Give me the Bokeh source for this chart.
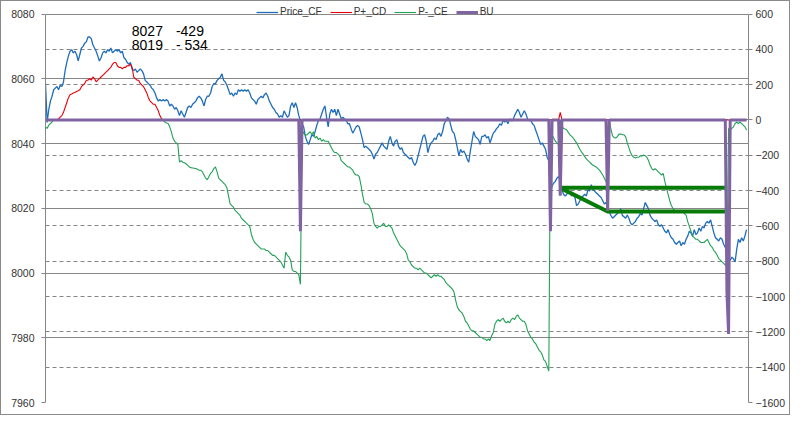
import numpy as np
from bokeh.plotting import figure
from bokeh.models import (Range1d, LinearAxis, FixedTicker, Grid, Legend,
                          LegendItem, Label)
from bokeh.embed import file_html
from bokeh.resources import INLINE

# ---------------- data ----------------
price_cf = [
    8058.5, 8046.5, 8050.5, 8053.1, 8054.6, 8056.6, 8057.1, 8057.6, 8056.6, 8058.0,
    8057.6, 8059.0, 8062.5, 8065.0, 8067.0, 8068.5, 8069.0, 8068.0, 8068.5, 8067.5,
    8065.5, 8067.5, 8069.5, 8070.0, 8071.0, 8071.4, 8072.9, 8072.9, 8072.4, 8070.5,
    8069.5, 8068.5, 8067.0, 8065.5, 8066.5, 8068.0, 8068.5, 8068.0, 8069.0, 8068.5,
    8069.5, 8068.0, 8068.5, 8069.0, 8068.5, 8069.0, 8068.0, 8068.5, 8066.5, 8066.0,
    8065.0, 8064.5, 8065.0, 8063.0, 8062.5, 8063.0, 8062.0, 8062.5, 8063.0, 8062.5,
    8061.5, 8059.5, 8059.0, 8058.5, 8058.0, 8057.1, 8056.6, 8055.6, 8054.1, 8053.1,
    8053.6, 8053.1, 8053.6, 8053.1, 8053.6, 8053.1, 8051.6, 8052.1, 8051.6, 8050.6,
    8051.1, 8050.1, 8048.6, 8050.1, 8049.1, 8048.1, 8049.6, 8051.1, 8051.6, 8051.1,
    8052.1, 8052.6, 8053.1, 8054.1, 8054.6, 8054.1, 8053.1, 8051.6, 8053.6, 8054.6,
    8054.6, 8055.6, 8057.6, 8058.5, 8058.5, 8059.5, 8060.0, 8060.5, 8061.5, 8059.5,
    8059.0, 8058.0, 8056.6, 8055.1, 8055.6, 8054.6, 8055.6, 8055.1, 8056.6, 8056.1,
    8056.6, 8056.1, 8056.6, 8056.1, 8056.6, 8055.6, 8054.1, 8053.6, 8053.1, 8052.1,
    8053.6, 8054.1, 8054.6, 8054.1, 8055.1, 8055.6, 8054.6, 8053.1, 8052.1, 8051.1,
    8050.6, 8049.6, 8049.1, 8048.1, 8048.6, 8048.1, 8050.1, 8049.1, 8048.1, 8048.6,
    8051.6, 8052.6, 8051.1, 8052.6, 8051.1, 8048.6, 8047.1, 8046.1, 8045.1, 8042.2,
    8040.7, 8039.7, 8041.2, 8042.7, 8042.2, 8043.7, 8045.6, 8047.1, 8047.6, 8049.1,
    8050.6, 8051.6, 8048.1, 8045.1, 8049.1, 8050.6, 8049.6, 8050.6, 8048.6, 8050.6,
    8049.1, 8047.6, 8048.1, 8047.6, 8047.1, 8046.1, 8046.1, 8044.6, 8043.2, 8044.1,
    8045.1, 8045.6, 8045.1, 8043.2, 8041.2, 8038.7, 8039.2, 8038.7, 8038.2, 8037.7,
    8036.7, 8035.2, 8036.7, 8037.2, 8038.2, 8039.2, 8040.2, 8039.2, 8038.7, 8038.2,
    8040.7, 8042.2, 8040.2, 8039.2, 8040.7, 8041.2, 8039.2, 8038.2, 8038.7, 8037.2,
    8036.7, 8036.2, 8035.7, 8035.2, 8035.7, 8034.2, 8033.2, 8034.2, 8036.2, 8038.2,
    8040.2, 8042.2, 8042.7, 8040.7, 8037.2, 8039.2, 8040.2, 8040.7, 8041.7, 8041.2,
    8042.7, 8043.2, 8042.2, 8043.7, 8046.1, 8047.1, 8048.1, 8047.6, 8045.6, 8043.7,
    8043.2, 8041.2, 8038.7, 8036.2, 8038.2, 8037.2, 8037.7, 8036.7, 8035.2, 8034.2,
    8037.7, 8040.7, 8043.7, 8042.2, 8041.7, 8041.2, 8039.7, 8042.2, 8042.2, 8042.7,
    8041.7, 8042.2, 8040.2, 8041.7, 8043.2, 8043.7, 8044.6, 8045.1, 8046.1, 8045.6,
    8047.1, 8046.6, 8047.1, 8046.1, 8047.6, 8047.1, 8047.1, 8048.6, 8049.6, 8050.6,
    8049.6, 8048.1, 8049.1, 8050.1, 8049.1, 8047.6, 8047.1, 8047.1, 8046.1, 8045.6,
    8044.1, 8042.7, 8041.2, 8039.7, 8040.2, 8039.2, 8038.2, 8035.7, 8034.7, 8025.3,
    8026.8, 8027.8, 8028.3, 8029.3, 8029.8, 8028.3, 8025.8, 8024.3, 8023.8, 8024.3,
    8025.3, 8024.8, 8023.8, 8024.3, 8023.3, 8020.8, 8021.3, 8022.3, 8023.3, 8023.8,
    8024.3, 8023.8, 8025.8, 8025.3, 8027.3, 8025.8, 8025.3, 8024.8, 8024.3, 8023.8,
    8023.3, 8022.3, 8021.3, 8021.8, 8020.3, 8018.8, 8017.8, 8016.9, 8017.4, 8017.9,
    8018.4, 8018.9, 8019.8, 8017.8, 8017.4, 8016.9, 8017.9, 8016.9, 8015.4, 8014.9,
    8015.4, 8015.9, 8016.9, 8017.4, 8018.4, 8017.9, 8019.8, 8021.8, 8020.8, 8019.8,
    8017.8, 8016.9, 8016.4, 8015.9, 8016.4, 8014.9, 8014.4, 8014.9, 8013.9, 8012.9,
    8012.4, 8013.4, 8011.9, 8010.9, 8010.4, 8009.4, 8008.9, 8009.4, 8009.9, 8008.4,
    8009.4, 8008.9, 8010.4, 8011.4, 8012.9, 8012.4, 8011.4, 8013.4, 8011.9, 8012.4,
    8013.9, 8012.9, 8014.4, 8013.9, 8015.4, 8015.9, 8015.4, 8016.4, 8014.4, 8012.4,
    8010.9, 8010.4, 8009.9, 8010.9, 8010.4, 8008.9, 8007.9, 8006.4, 8004.4, 8003.9,
    8004.9, 8004.4, 8003.4, 8007.4, 8010.4, 8009.4, 8010.9, 8009.9, 8011.4, 8013.4,
]

# P+_CD : zero except a hump and one spike
p_plus_start = 8
p_plus_hump = [
    6.7, 15.8, 24.9, 43.1, 70.4, 97.7, 125.0, 143.2, 146.8, 152.3,
    155.9, 161.4, 165.0, 170.5, 188.7, 197.8, 206.9, 225.1, 225.1, 234.2,
    225.1, 243.3, 234.2, 216.0, 225.1, 234.2, 243.3, 252.4, 261.5, 270.6,
    279.7, 288.8, 297.9, 316.1, 325.2, 325.2, 307.0, 297.9, 297.9, 288.8,
    297.9, 297.9, 307.0, 307.0, 316.1, 297.9, 243.3, 234.2, 225.1, 225.1,
    206.9, 197.8, 188.7, 170.5, 152.3, 125.0, 106.8, 97.7, 88.6, 88.6,
    70.4, 52.2, 24.9, 6.7,
]
p_plus_spike_idx = [315]
p_plus_spike_val = [43.0]

# P-_CE : three stretches, zero elsewhere
p_minus_start_1 = 0
p_minus_seg_1 = [-38.8, -47.9, -29.7, -20.6, -11.5]
p_minus_start_2 = 72
p_minus_seg_2 = [
    -2.0, -11.5, -17.0, -20.6, -38.8, -66.1, -102.5, -120.7, -129.8, -138.9,
    -239.0, -229.9, -239.0, -242.6, -248.1, -257.2, -266.3, -270.0, -271.8, -273.6,
    -275.4, -279.0, -284.5, -284.5, -293.6, -311.8, -330.0, -339.1, -320.9, -302.7,
    -293.6, -275.4, -266.3, -293.6, -330.0, -339.1, -348.2, -357.3, -366.4, -384.6,
    -430.1, -475.6, -484.7, -493.8, -512.0, -521.1, -530.2, -539.3, -557.5, -566.6,
    -575.7, -584.8, -593.9, -603.0, -648.5, -675.8, -694.0, -703.1, -712.2, -721.3,
    -730.4, -730.4, -730.4, -739.5, -739.5, -748.6, -757.7, -766.8, -766.8, -775.9,
    -785.0, -794.1, -803.2, -821.4, -839.6, -748.6, -766.8, -775.9, -794.1, -848.7,
    -857.8, -857.8, -866.9, -876.0, -930.6, -57.0, -75.2, -84.3, -84.3, -75.2,
    -66.1, -84.3, -66.1, -102.5, -93.4, -111.6, -102.5, -120.7, -111.6, -120.7,
    -120.7, -120.7, -138.9, -157.1, -175.3, -184.4, -184.4, -193.5, -202.6, -229.9,
    -239.0, -248.1, -257.2, -266.3, -266.3, -275.4, -284.5, -302.7, -311.8, -311.8,
    -320.9, -366.4, -421.0, -466.5, -475.6, -475.6, -484.7, -502.9, -530.2, -584.8,
    -603.0, -612.1, -603.0, -603.0, -593.9, -584.8, -603.0, -603.0, -593.9, -603.0,
    -612.1, -639.4, -657.6, -675.8, -694.0, -712.2, -721.3, -730.4, -739.5, -757.7,
    -794.1, -803.2, -821.4, -830.5, -839.6, -839.6, -848.7, -839.6, -848.7, -857.8,
    -866.9, -866.9, -876.0, -885.1, -894.2, -885.1, -876.0, -885.1, -876.0, -885.1,
    -885.1, -894.2, -903.3, -921.5, -930.6, -939.7, -948.8, -957.9, -976.1, -1021.6,
    -1058.0, -1076.2, -1085.3, -1094.4, -1112.6, -1139.9, -1149.0, -1167.2, -1185.4, -1194.5,
    -1194.5, -1203.6, -1212.7, -1221.8, -1230.9, -1230.9, -1240.0, -1240.0, -1249.1, -1240.0,
    -1249.1, -1221.8, -1203.6, -1158.1, -1139.9, -1130.8, -1139.9, -1130.8, -1121.7, -1139.9,
    -1149.0, -1139.9, -1149.0, -1130.8, -1121.7, -1130.8, -1112.6, -1103.5, -1121.7, -1130.8,
    -1139.9, -1139.9, -1158.1, -1194.5, -1212.7, -1230.9, -1240.0, -1258.2, -1267.3, -1285.5,
    -1303.7, -1312.8, -1331.0, -1358.3, -1367.4, -1394.7, -1422.0, -75.1, -84.2, -102.4,
    -120.6, -129.7, -140.0,
]
p_minus_start_3 = 316
p_minus_seg_3 = [
    -29.6, -47.8, -51.4, -56.9, -71.5, -84.2, -93.3, -102.4, -117.0, -129.7,
    -147.9, -166.1, -180.7, -193.4, -208.0, -220.7, -229.8, -238.9, -248.0, -257.1,
    -260.7, -266.2, -275.3, -284.4, -297.1, -311.7, -329.9, -348.1, -375.4, -8.0,
    -50.0, -90.0, -100.0, -102.4, -93.3, -80.0, -80.0, -84.2, -84.2, -95.0,
    -129.7, -157.0, -184.3, -202.5, -211.6, -215.0, -211.6, -211.6, -202.5, -205.0,
    -198.0, -202.5, -211.6, -229.8, -257.2, -275.4, -284.5, -275.4, -284.5, -293.6,
    -302.7, -311.8, -302.7, -348.2, -384.6, -421.0, -457.4, -484.7, -502.9, -512.0,
    -521.1, -512.0, -521.1, -521.1, -521.1, -530.2, -539.3, -575.7, -603.0, -630.3,
    -657.6, -666.7, -675.8, -675.8, -684.9, -694.0, -694.0, -694.0, -684.9, -675.8,
    -694.0, -712.2, -721.3, -739.5, -748.6, -766.8, -785.0, -794.1, -803.2, -812.3,
    -821.4, -825.0, -47.9, -57.0, -47.9, -38.8, -20.6, -11.5, -20.6, -11.5,
    -20.6, -29.7, -38.8, -57.0,
]

# BU : zero except spikes
bu_idx = [156, 309, 315, 344, 417, 418]
bu_val = [-630, -630, -429, -515, -976, -1212]

# hand-drawn trend lines (price scale)
trend_upper_x = [315, 417]
trend_upper_y = [8026.3, 8026.3]
trend_lower_x = [315, 344, 417]
trend_lower_y = [8026.3, 8019.0, 8019.0]

# annotation text
note_rows = [("8027", "-429"), ("8019", "- 534")]
note_levels = [8074.9, 8070.3]

left_ticks = [7960, 7980, 8000, 8020, 8040, 8060, 8080]
right_ticks = [-1600, -1400, -1200, -1000, -800, -600, -400, -200, 0, 200, 400, 600]
left_bounds = (7960, 8080)
right_bounds = (-1600, 600)

# ---------------- build series ----------------
N = len(price_cf)
idx = np.arange(N)
p_plus = np.zeros(N)
p_plus[p_plus_start:p_plus_start + len(p_plus_hump)] = p_plus_hump
p_plus[p_plus_spike_idx] = p_plus_spike_val
p_minus = np.zeros(N)
p_minus[p_minus_start_1:p_minus_start_1 + len(p_minus_seg_1)] = p_minus_seg_1
p_minus[p_minus_start_2:p_minus_start_2 + len(p_minus_seg_2)] = p_minus_seg_2
p_minus[p_minus_start_3:p_minus_start_3 + len(p_minus_seg_3)] = p_minus_seg_3
bu = np.zeros(N)
bu[bu_idx] = bu_val

# ---------------- figure ----------------
FONT = "Liberation Sans"
GRID = "#868686"
TXT = "#333333"

# the frame reaches the top edge so the legend (which straddles the top of
# the plotting area) is not clipped; axes/grids are bounded to the real ranges
FRAME_H = 401.0
TOP_PAD = 12.5
left_span = left_bounds[1] - left_bounds[0]
right_span = right_bounds[1] - right_bounds[0]
left_top = left_bounds[1] + TOP_PAD * left_span / (FRAME_H - TOP_PAD)
right_top = right_bounds[1] + TOP_PAD * right_span / (FRAME_H - TOP_PAD)

p = figure(width=790, height=415, output_backend="svg", toolbar_location=None,
           x_range=Range1d(0, 430.2), y_range=Range1d(left_bounds[0], left_top),
           x_axis_location=None, min_border_left=44, min_border_right=43,
           min_border_top=0, min_border_bottom=14)
p.outline_line_color = None
p.background_fill_color = "white"
p.border_fill_color = "white"
p.xgrid.visible = False
p.extra_y_ranges = {"right": Range1d(right_bounds[0], right_top)}
p.styles = {"border": "1px solid #8a8a8a", "box-sizing": "border-box"}

# left axis
ya = p.yaxis[0]
ya.ticker = FixedTicker(ticks=left_ticks)
ya.bounds = left_bounds
ya.axis_line_color = GRID
ya.major_tick_line_color = GRID
ya.major_tick_out = 4
ya.major_tick_in = 0
ya.minor_tick_line_color = None
ya.major_label_standoff = 7
ya.major_label_text_font = FONT
ya.major_label_text_font_size = "10.5px"
ya.major_label_text_color = TXT

# right axis
ra = LinearAxis(y_range_name="right", ticker=FixedTicker(ticks=right_ticks),
                bounds=right_bounds)
ra.axis_line_color = GRID
ra.major_tick_line_color = GRID
ra.major_tick_out = 4
ra.major_tick_in = 0
ra.minor_tick_line_color = None
ra.major_label_standoff = 3
ra.major_label_text_font = FONT
ra.major_label_text_font_size = "10.5px"
ra.major_label_text_color = TXT
p.add_layout(ra, "right")

# grids
p.ygrid.ticker = FixedTicker(ticks=left_ticks)
p.ygrid.grid_line_color = GRID
p.ygrid.grid_line_width = 1
rg = Grid(dimension=1, y_range_name="right",
          ticker=FixedTicker(ticks=right_ticks[1:-1]),
          grid_line_color=GRID, grid_line_dash="4 3", grid_line_width=1)
p.add_layout(rg)

# series
r_price = p.line(idx, price_cf, line_color="#1f6dbb", line_width=1.3)
r_plus = p.line(idx, p_plus, line_color="#e8000b", line_width=1.1, y_range_name="right")
r_minus = p.line(idx, p_minus, line_color="#22a157", line_width=1.1, y_range_name="right")
p.line(trend_upper_x, trend_upper_y, line_color="#087a08", line_width=4)
p.line(trend_lower_x, trend_lower_y, line_color="#087a08", line_width=4)
r_bu = p.line(idx, bu, line_color="#8064a2", line_width=3, y_range_name="right")

# legend straddling the top edge of the plot area
legend = Legend(items=[LegendItem(label="Price_CF", renderers=[r_price]),
                       LegendItem(label="P+_CD", renderers=[r_plus]),
                       LegendItem(label="P-_CE", renderers=[r_minus]),
                       LegendItem(label="BU", renderers=[r_bu])],
                orientation="horizontal", location=(211, 385), padding=0,
                margin=0, spacing=8, glyph_width=22, glyph_height=10,
                label_height=10, label_standoff=2, label_text_font=FONT,
                label_text_font_size="10px", label_text_color=TXT,
                background_fill_alpha=0, border_line_alpha=0)
p.add_layout(legend)

# text box with the two levels
for (a, b), lev in zip(note_rows, note_levels):
    p.add_layout(Label(x=52.8, y=lev, text=a, text_font=FONT, text_font_size="14px",
                       text_color="black", text_baseline="alphabetic"))
    p.add_layout(Label(x=79.8, y=lev, text=b, text_font=FONT, text_font_size="14px",
                       text_color="black", text_baseline="alphabetic"))

open("out.html", "w").write(file_html(p, INLINE))
